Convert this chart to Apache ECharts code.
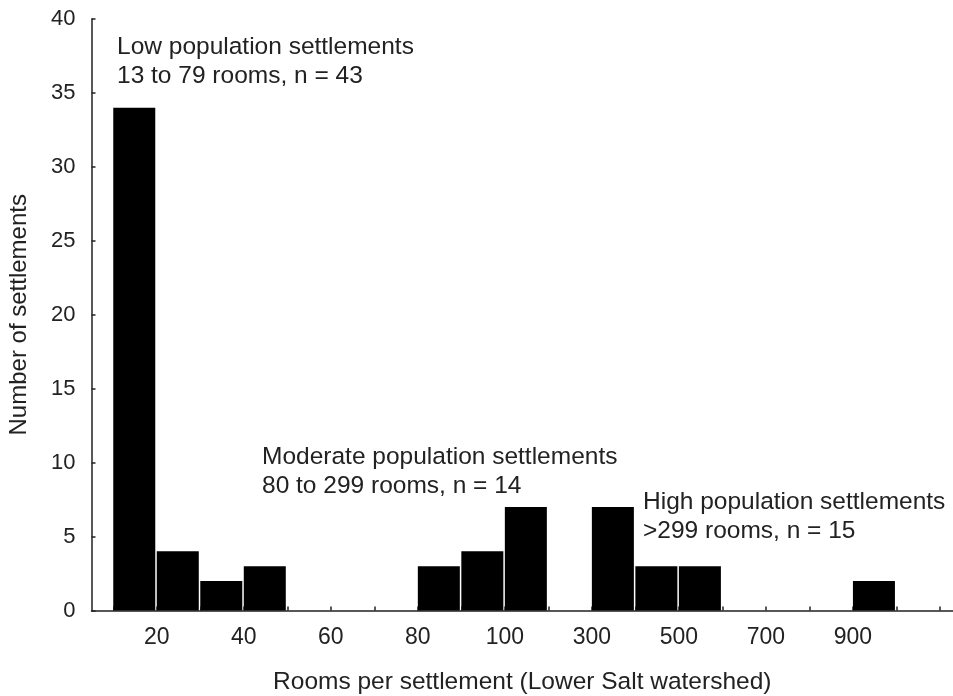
<!DOCTYPE html>
<html>
<head>
<meta charset="utf-8">
<script src="https://cdn.jsdelivr.net/npm/echarts@6/dist/echarts.min.js"></script>
<style>
html,body{margin:0;padding:0;background:#fff;}
#chart{width:953px;height:696px;}
</style>
</head>
<body>
<div id="chart"></div>
<script>
// Histogram bins (index of bin along the axis) and counts
const binIndex = [0,1,2,3,4,5,6,7,8,9,10,11,12,13,14,15,16,17];
const binRanges = ['10-20','20-30','30-40','40-50','50-60','60-70','70-80','80-90','90-100',
  '100-200','200-300','300-400','400-500','500-600','600-700','700-800','800-900','900-1000'];
const counts = [34,4,2,3,0,0,0,3,4,7,0,7,3,3,0,0,0,2];
// Tick labels on the x axis (at bin boundaries)
const tickPositions = [1,3,5,7,9,11,13,15,17];
const tickLabels = ['20','40','60','80','100','300','500','700','900'];
const tickBoundaries = [0,1,2,3,4,5,6,7,8,9,10,11,12,13,14,15,16,17,18,19];

const annotations = [
  {text: 'Low population settlements\n13 to 79 rooms, n = 43', left: 117, top: 33},
  {text: 'Moderate population settlements\n80 to 299 rooms, n = 14', left: 262, top: 443},
  {text: 'High population settlements\n>299 rooms, n = 15', left: 643, top: 488}
];

const FONT = '"Liberation Sans", Arial, sans-serif';
const TXT = '#222';
const chart = echarts.init(document.getElementById('chart'), null, {renderer: 'canvas'});
chart.setOption({
  animation: false,
  backgroundColor: '#fff',
  grid: {left: 91.5, right: 0, top: 19, bottom: 85.5, containLabel: false, outerBoundsMode: 'none'},
  xAxis: {
    type: 'value', min: -0.5, max: 19.3,
    name: 'Rooms per settlement (Lower Salt watershed)',
    nameLocation: 'middle', nameGap: 59,
    nameTextStyle: {fontFamily: FONT, fontSize: 24.5, color: TXT},
    axisLine: {show: true, onZero: false, lineStyle: {color: '#222', width: 1.5}},
    axisTick: {show: true, inside: true, length: 4, customValues: tickBoundaries, lineStyle: {color: '#222', width: 1.5}},
    axisLabel: {show: true, customValues: tickPositions, margin: 16, fontFamily: FONT, fontSize: 23, color: TXT,
      formatter: v => { const k = tickPositions.indexOf(Math.round(v)); return k >= 0 ? tickLabels[k] : ''; }},
    splitLine: {show: false}
  },
  yAxis: {
    type: 'value', min: 0, max: 40, interval: 5,
    name: 'Number of settlements',
    nameLocation: 'middle', nameGap: 60,
    nameTextStyle: {fontFamily: FONT, fontSize: 24, color: TXT},
    axisLine: {show: true, onZero: false, lineStyle: {color: '#222', width: 1.5}},
    axisTick: {show: true, inside: true, length: 4, lineStyle: {color: '#222', width: 1.5}},
    axisLabel: {margin: 16, fontFamily: FONT, fontSize: 22, color: TXT},
    splitLine: {show: false}
  },
  series: [{
    type: 'custom',
    name: 'Settlements',
    encode: {x: 0, y: 1},
    data: binIndex.map((b, k) => [b, counts[k], binRanges[k]]),
    renderItem: function (params, api) {
      const i = api.value(0), v = api.value(1);
      if (!v) return null;
      const p0 = api.coord([i, v]);
      const p1 = api.coord([i + 1, 0]);
      return {
        type: 'rect',
        shape: {x: p0[0], y: p0[1], width: p1[0] - p0[0] - 1.5, height: p1[1] - p0[1]},
        style: {fill: '#000'}
      };
    }
  }],
  graphic: annotations.map(a => ({
    type: 'text', left: a.left, top: a.top, z: 10,
    style: {text: a.text, fontFamily: FONT, fontSize: 24.5, lineHeight: 29, fill: TXT}
  }))
});
</script>
</body>
</html>
